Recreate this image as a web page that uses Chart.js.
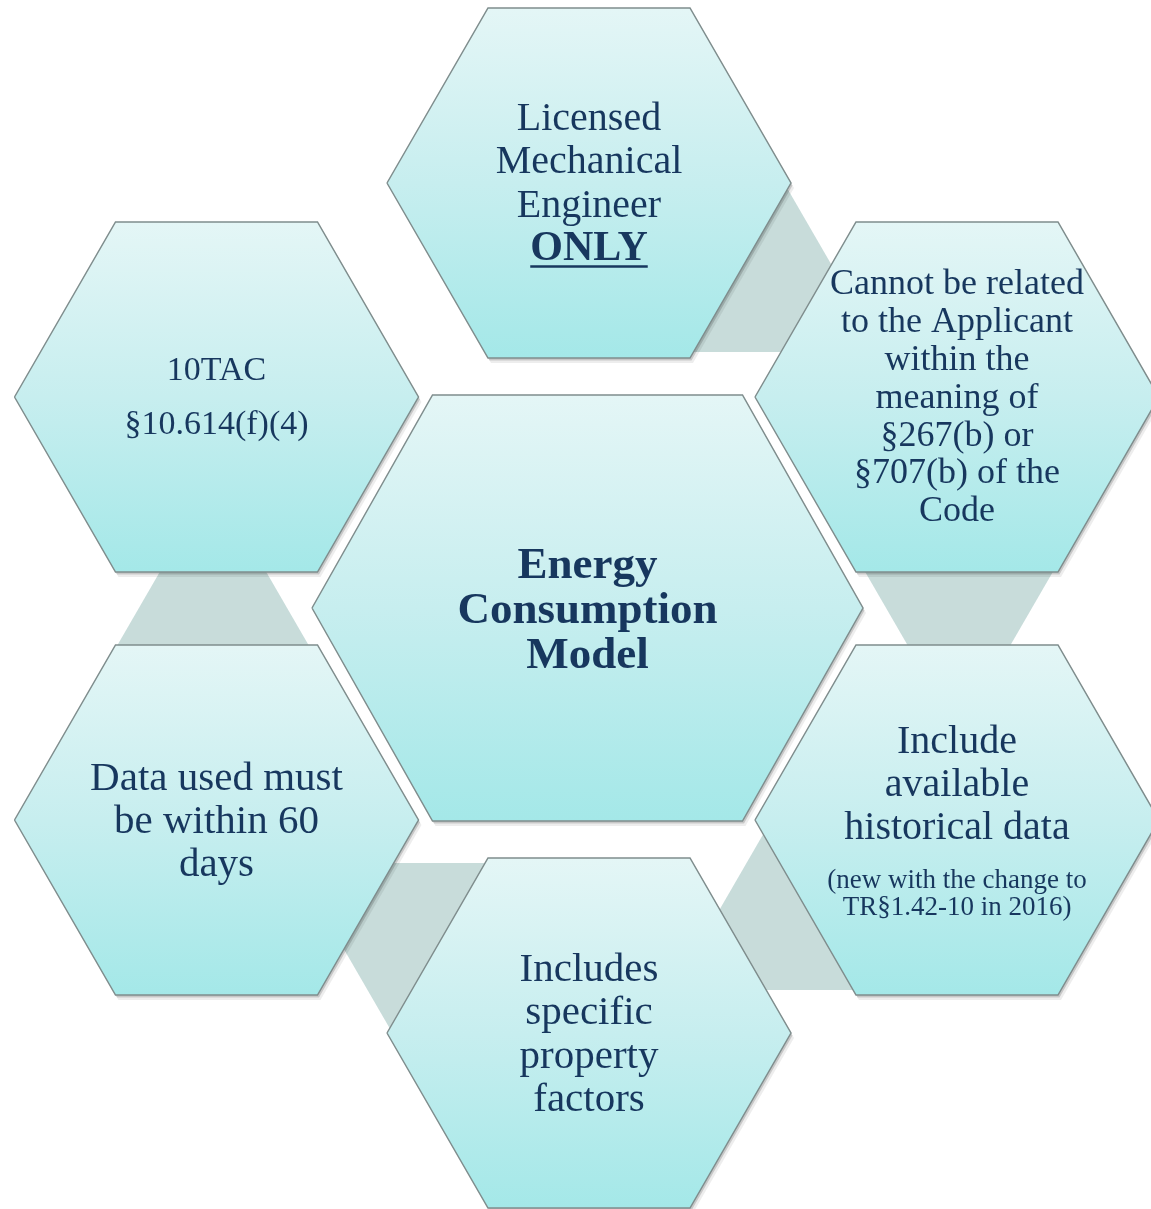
<!DOCTYPE html>
<html>
<head>
<meta charset="utf-8">
<script src="https://cdn.jsdelivr.net/npm/chart.js@4"></script>
<style>
  html, body { margin: 0; padding: 0; background: #ffffff; }
  #wrap { width: 1151px; height: 1209px; position: relative; }
</style>
</head>
<body>
<div id="wrap"><canvas id="hexChart"></canvas></div>
<script>
// ===== Diagram data =====
const hexNames = ["Center", "Top", "Top right", "Bottom right", "Bottom", "Bottom left", "Top left"];
const hexX = [587.5, 589, 957, 957, 589, 216.5, 216.5];
const hexY = [608, 183, 397, 820, 1033, 820, 397];

const hexLines = [
    ["Energy", "Consumption", "Model"],
    ["Licensed", "Mechanical", "Engineer", "ONLY"],
    ["Cannot be related", "to the Applicant", "within the", "meaning of", "§267(b) or", "§707(b) of the", "Code"],
    ["Include", "available", "historical data"],
    ["Includes", "specific", "property", "factors"],
    ["Data used must", "be within 60", "days"],
    ["10TAC", "§10.614(f)(4)"]
];
const noteLines = ["(new with the change to", "TR§1.42-10 in 2016)"];

// connectors between neighbouring outer hexagons (apex point, pointing up or down)
const connApexX = [783, 959, 772, 393, 213];
const connApexY = [181, 734, 819, 1034, 480];
const connUp = [true, false, true, false, true];

// ===== Sizes & styles =====
const OUTER = { halfW: 202, halfTop: 101, halfH: 175 };
const CENTER = { halfW: 275.5, halfTop: 155, halfH: 213 };
const CONN_SIDE = 198;
const CONN_H = 171;
const TEXT_COLOR = "#17375E";
const FONT = "'Liberation Serif', 'Times New Roman', serif";

// per hexagon text layout: font size, line gap, offset of first line from centre
const textStyle = [
    { size: 45, gap: 45, start: -42, bold: true },
    { size: 40, gap: 43.5, start: -64 },
    { size: 36, gap: 37.8, start: -112 },
    { size: 40, gap: 43, start: -78 },
    { size: 41, gap: 43.5, start: -63 },
    { size: 41, gap: 43, start: -41 },
    { size: 34, gap: 54, start: -26 }
];

function hexPoints(i, dx, dy) {
    const s = i === 0 ? CENTER : OUTER;
    const cx = hexX[i] + (dx || 0);
    const cy = hexY[i] + (dy || 0);
    return [
        { x: cx - s.halfW, y: cy },
        { x: cx - s.halfTop, y: cy - s.halfH },
        { x: cx + s.halfTop, y: cy - s.halfH },
        { x: cx + s.halfW, y: cy },
        { x: cx + s.halfTop, y: cy + s.halfH },
        { x: cx - s.halfTop, y: cy + s.halfH },
        { x: cx - s.halfW, y: cy }
    ];
}

function connPoints(k) {
    const ax = connApexX[k];
    const ay = connApexY[k];
    const by = connUp[k] ? ay + CONN_H : ay - CONN_H;
    return [
        { x: ax, y: ay },
        { x: ax + CONN_SIDE / 2, y: by },
        { x: ax - CONN_SIDE / 2, y: by },
        { x: ax, y: ay }
    ];
}

const datasets = [];

// ===== Connectors (bottom layer) =====
connApexX.forEach((_, k) => {
    datasets.push({
        label: "connector " + (k + 1),
        data: connPoints(k),
        fill: "shape",
        backgroundColor: "#C8DCDA",
        borderWidth: 0,
        order: 4
    });
});

// ===== Soft shadows =====
hexNames.forEach((name, i) => {
    datasets.push({
        label: name + " shadow",
        data: hexPoints(i, 3, 5),
        fill: "shape",
        backgroundColor: "rgba(0,0,0,0.07)",
        borderWidth: 0,
        order: 3
    });
    datasets.push({
        label: name + " shadow 2",
        data: hexPoints(i, 1.5, 2.5),
        fill: "shape",
        backgroundColor: "rgba(0,0,0,0.16)",
        borderWidth: 0,
        order: 2
    });
});

// ===== Hexagons =====
hexNames.forEach((name, i) => {
    const s = i === 0 ? CENTER : OUTER;
    datasets.push({
        label: name,
        data: hexPoints(i),
        fill: "shape",
        borderColor: "#7F8D8D",
        borderWidth: 1.5,
        borderJoinStyle: "miter",
        order: 1,
        backgroundColor: function (context) {
            const chart = context.chart;
            if (!chart.chartArea) return "#C6EEEE";
            const yScale = chart.scales.y;
            const top = yScale.getPixelForValue(hexY[i] - s.halfH);
            const bottom = yScale.getPixelForValue(hexY[i] + s.halfH);
            const g = chart.ctx.createLinearGradient(0, top, 0, bottom);
            g.addColorStop(0, "#E4F6F6");
            g.addColorStop(0.5, "#C7EEEF");
            g.addColorStop(1, "#A4E8E8");
            return g;
        }
    });
});

// ===== Text plugin =====
const hexTextPlugin = {
    id: "hexText",
    afterDatasetsDraw(chart) {
        const ctx = chart.ctx;
        const xs = chart.scales.x;
        const ys = chart.scales.y;
        ctx.save();
        ctx.fillStyle = TEXT_COLOR;
        ctx.strokeStyle = TEXT_COLOR;
        ctx.textAlign = "center";
        ctx.textBaseline = "middle";

        hexLines.forEach((lines, i) => {
            const st = textStyle[i];
            const cx = xs.getPixelForValue(hexX[i]);
            const cy = ys.getPixelForValue(hexY[i]);
            lines.forEach((line, j) => {
                const y = cy + st.start + j * st.gap;
                let bold = st.bold;
                let size = st.size;
                const emphasis = i === 1 && line === "ONLY";
                if (emphasis) { bold = true; size = 42; }
                ctx.font = (bold ? "bold " : "") + size + "px " + FONT;
                ctx.fillText(line, cx, y);
                if (emphasis) {
                    const w = ctx.measureText(line).width;
                    ctx.lineWidth = 2.5;
                    ctx.beginPath();
                    ctx.moveTo(cx - w / 2, y + 17);
                    ctx.lineTo(cx + w / 2, y + 17);
                    ctx.stroke();
                }
            });
        });

        // small note under "Include available historical data"
        const nx = xs.getPixelForValue(hexX[3]);
        const ny = ys.getPixelForValue(hexY[3]);
        ctx.font = "27px " + FONT;
        noteLines.forEach((line, j) => {
            ctx.fillText(line, nx, ny + 61 + j * 27);
        });

        ctx.restore();
    }
};

new Chart(document.getElementById("hexChart"), {
    type: "line",
    data: { datasets: datasets },
    options: {
        responsive: true,
        maintainAspectRatio: false,
        animation: false,
        events: [],
        layout: { padding: 0 },
        elements: {
            line: { tension: 0 },
            point: { radius: 0, hoverRadius: 0 }
        },
        scales: {
            x: { type: "linear", min: 0, max: 1151, display: false },
            y: { type: "linear", min: 0, max: 1209, reverse: true, display: false }
        },
        plugins: {
            legend: { display: false },
            tooltip: { enabled: false }
        }
    },
    plugins: [hexTextPlugin]
});
</script>
</body>
</html>
